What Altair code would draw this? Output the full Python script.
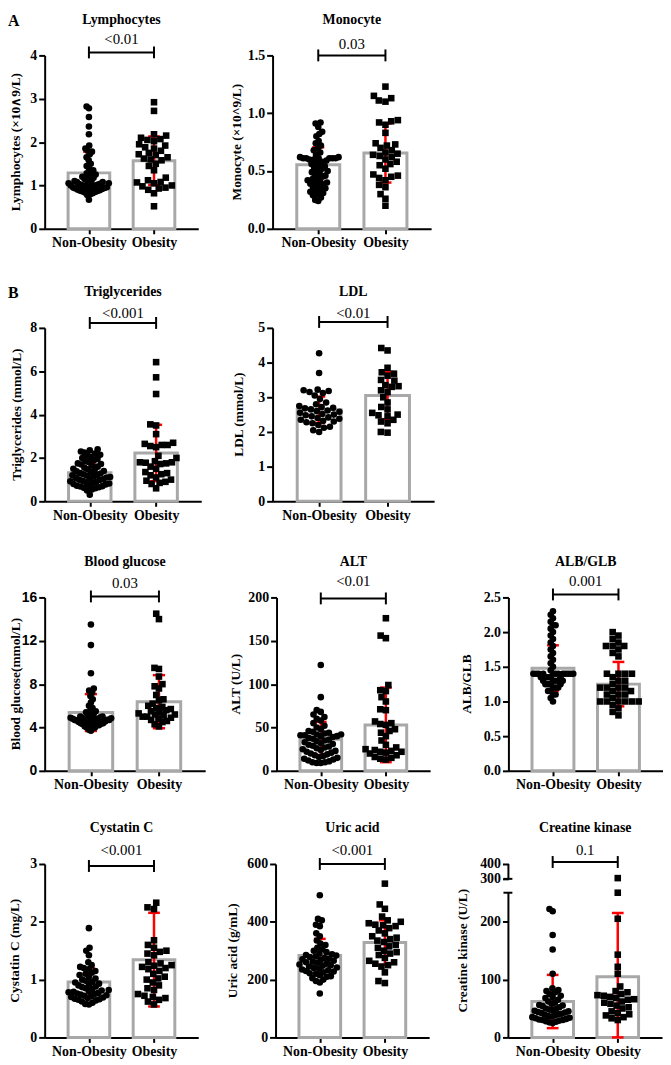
import altair as alt
import numpy as np
import pandas as pd

SERIF = "Liberation Serif"
SANS = "Liberation Sans"
RED = "#ff0000"
GRAY = "#a8a8a8"
H = 175
XDOM = [-0.68, 1.68]
GROUPS = ["Non-Obesity", "Obesity"]

# ---------------- data ----------------
lymph_non = [2.82, 2.78, 2.58, 2.36, 2.18, 1.92, 1.85, 1.80, 1.78, 1.72, 1.65, 1.58, 1.50, 1.45, 1.40, 1.35, 1.30, 1.28, 1.25, 1.22, 1.20, 1.18, 1.15, 1.12, 1.10, 1.10, 1.08, 1.08, 1.06, 1.05, 1.05, 1.04, 1.03, 1.02, 1.01, 1.00, 1.00, 0.99, 0.98, 0.97, 0.96, 0.95, 0.95, 0.94, 0.93, 0.92, 0.91, 0.90, 0.89, 0.88, 0.87, 0.86, 0.85, 0.84, 0.82, 0.80, 0.78, 0.67]
lymph_ob = [2.92, 2.72, 2.18, 2.15, 2.10, 2.07, 2.05, 2.02, 1.95, 1.92, 1.88, 1.85, 1.80, 1.75, 1.72, 1.70, 1.65, 1.62, 1.60, 1.58, 1.50, 1.45, 1.35, 1.18, 1.12, 1.08, 1.07, 1.05, 1.00, 0.98, 0.95, 0.93, 0.90, 0.82, 0.52]
lymph_mean = [1.29, 1.57]
lymph_sd = [0.49, 0.56]

mono_non = [0.92, 0.91, 0.88, 0.84, 0.82, 0.80, 0.76, 0.74, 0.72, 0.70, 0.68, 0.66, 0.64, 0.62, 0.62, 0.61, 0.61, 0.61, 0.61, 0.61, 0.61, 0.60, 0.60, 0.59, 0.58, 0.57, 0.56, 0.55, 0.54, 0.53, 0.52, 0.51, 0.50, 0.49, 0.48, 0.47, 0.46, 0.45, 0.44, 0.43, 0.42, 0.41, 0.40, 0.40, 0.39, 0.38, 0.37, 0.36, 0.35, 0.34, 0.33, 0.32, 0.31, 0.30, 0.29, 0.27, 0.25, 0.24]
mono_ob = [1.23, 1.15, 1.13, 1.11, 1.10, 0.94, 0.93, 0.92, 0.90, 0.83, 0.74, 0.73, 0.72, 0.70, 0.68, 0.66, 0.65, 0.64, 0.63, 0.62, 0.60, 0.58, 0.56, 0.55, 0.52, 0.47, 0.46, 0.45, 0.44, 0.42, 0.38, 0.36, 0.30, 0.26, 0.20]
mono_mean = [0.555, 0.655]
mono_sd = [0.15, 0.255]

trig_non = [2.40, 2.35, 2.30, 2.25, 2.20, 2.15, 2.10, 2.05, 2.00, 1.95, 1.90, 1.85, 1.80, 1.75, 1.72, 1.70, 1.65, 1.60, 1.55, 1.50, 1.48, 1.45, 1.40, 1.38, 1.35, 1.30, 1.28, 1.25, 1.22, 1.20, 1.18, 1.15, 1.12, 1.10, 1.08, 1.05, 1.02, 1.00, 0.98, 0.95, 0.92, 0.90, 0.88, 0.85, 0.82, 0.80, 0.78, 0.75, 0.72, 0.70, 0.68, 0.65, 0.62, 0.60, 0.55, 0.50, 0.30]
trig_ob = [6.42, 5.72, 4.95, 3.55, 3.50, 3.10, 2.70, 2.65, 2.60, 2.60, 2.55, 2.50, 2.10, 2.00, 1.85, 1.80, 1.80, 1.78, 1.75, 1.72, 1.60, 1.50, 1.35, 1.30, 1.25, 1.20, 1.10, 1.00, 0.95, 0.90, 0.85, 0.80, 0.60]
trig_mean = [1.32, 2.23]
trig_sd = [0.45, 1.30]

ldl_non = [4.27, 3.70, 3.22, 3.20, 3.18, 3.15, 3.12, 3.05, 2.95, 2.85, 2.80, 2.75, 2.72, 2.70, 2.68, 2.65, 2.62, 2.60, 2.58, 2.55, 2.52, 2.50, 2.48, 2.45, 2.42, 2.40, 2.38, 2.35, 2.32, 2.30, 2.28, 2.25, 2.20, 2.15, 2.12, 2.05, 2.00]
ldl_ob = [4.42, 4.35, 3.85, 3.72, 3.68, 3.62, 3.50, 3.48, 3.35, 3.32, 3.30, 3.20, 3.15, 3.00, 2.85, 2.72, 2.65, 2.55, 2.50, 2.48, 2.45, 2.35, 2.30, 2.25, 2.00, 1.98]
ldl_mean = [2.64, 3.05]
ldl_sd = [0.38, 0.68]

bg_non = [13.5, 11.6, 9.0, 7.6, 7.4, 7.2, 6.9, 6.6, 6.3, 6.0, 5.8, 5.6, 5.5, 5.4, 5.3, 5.2, 5.1, 5.0, 5.0, 4.95, 4.9, 4.9, 4.9, 4.85, 4.8, 4.8, 4.8, 4.75, 4.7, 4.7, 4.7, 4.65, 4.6, 4.6, 4.55, 4.5, 4.5, 4.45, 4.4, 4.4, 4.35, 4.3, 4.3, 4.2, 4.2, 4.1, 4.0, 4.0, 3.9, 3.8, 3.7]
bg_ob = [14.5, 14.0, 9.5, 9.4, 8.7, 8.0, 7.8, 7.6, 7.0, 6.6, 6.5, 6.2, 6.0, 5.9, 5.8, 5.7, 5.6, 5.5, 5.4, 5.3, 5.2, 5.2, 5.1, 5.0, 5.0, 4.9, 4.8, 4.7, 4.6, 4.5, 4.3, 4.1]
bg_mean = [5.38, 6.38]
bg_sd = [1.70, 2.45]

alt_non = [122, 85, 70, 68, 65, 62, 60, 58, 55, 52, 50, 48, 46, 45, 44, 43, 42, 42, 41, 41, 40, 40, 39, 38, 37, 36, 35, 34, 33, 32, 31, 30, 29, 28, 27, 26, 25, 24, 23, 22, 21, 20, 19, 18, 17, 16, 15, 14, 13, 12, 11, 10, 10, 9, 9]
alt_ob = [176, 156, 153, 99, 93, 92, 85, 80, 71, 70, 57, 55, 54, 53, 48, 46, 44, 40, 35, 30, 27, 25, 24, 23, 22, 22, 21, 20, 18, 16, 15, 14, 13]
alt_mean = [36.5, 53.0]
alt_sd = [20.0, 43.0]

alb_non = [2.30, 2.25, 2.20, 2.15, 2.10, 2.10, 2.05, 2.00, 1.95, 1.90, 1.85, 1.80, 1.75, 1.70, 1.65, 1.60, 1.55, 1.50, 1.45, 1.40, 1.40, 1.40, 1.40, 1.40, 1.40, 1.40, 1.40, 1.40, 1.40, 1.40, 1.40, 1.35, 1.35, 1.35, 1.35, 1.35, 1.30, 1.30, 1.30, 1.30, 1.30, 1.25, 1.25, 1.25, 1.25, 1.20, 1.20, 1.20, 1.15, 1.15, 1.10, 1.10, 1.05, 1.00]
alb_ob = [2.00, 1.95, 1.90, 1.85, 1.80, 1.80, 1.80, 1.75, 1.70, 1.65, 1.40, 1.40, 1.40, 1.40, 1.35, 1.30, 1.30, 1.25, 1.20, 1.20, 1.20, 1.20, 1.15, 1.15, 1.10, 1.10, 1.10, 1.05, 1.00, 1.00, 1.00, 1.00, 1.00, 1.00, 0.95, 0.90, 0.85, 0.80]
alb_mean = [1.48, 1.25]
alb_sd = [0.33, 0.32]

cys_non = [1.89, 1.55, 1.50, 1.42, 1.30, 1.25, 1.22, 1.20, 1.18, 1.15, 1.12, 1.10, 1.08, 1.05, 1.02, 1.00, 0.98, 0.96, 0.95, 0.93, 0.92, 0.90, 0.88, 0.87, 0.85, 0.84, 0.82, 0.81, 0.80, 0.79, 0.78, 0.77, 0.76, 0.75, 0.74, 0.73, 0.72, 0.71, 0.70, 0.69, 0.68, 0.67, 0.66, 0.65, 0.64, 0.62, 0.60, 0.58, 0.57]
cys_ob = [2.33, 2.25, 2.22, 1.68, 1.60, 1.55, 1.50, 1.48, 1.45, 1.42, 1.30, 1.28, 1.25, 1.24, 1.22, 1.20, 1.18, 1.15, 1.10, 1.05, 1.02, 1.00, 0.95, 0.90, 0.85, 0.82, 0.75, 0.72, 0.70, 0.68, 0.65, 0.62, 0.57]
cys_mean = [0.96, 1.345]
cys_sd = [0.24, 0.81]

uric_non = [492, 410, 405, 390, 385, 360, 350, 335, 325, 320, 310, 305, 300, 295, 290, 288, 285, 283, 280, 278, 275, 272, 270, 268, 265, 262, 260, 258, 255, 252, 250, 248, 245, 242, 240, 238, 235, 232, 230, 228, 225, 222, 220, 215, 212, 210, 205, 200, 195, 190, 152]
uric_ob = [532, 460, 445, 418, 405, 400, 395, 390, 388, 385, 378, 370, 360, 350, 345, 340, 335, 330, 320, 315, 310, 300, 295, 290, 285, 275, 265, 260, 255, 250, 245, 225, 195, 188]
uric_mean = [283, 328]
uric_sd = [58, 77]

ck_non = [222, 218, 177, 152, 110, 85, 82, 80, 78, 75, 72, 70, 68, 65, 62, 60, 58, 56, 55, 54, 52, 50, 49, 48, 47, 46, 45, 44, 43, 42, 41, 40, 39, 38, 37, 36, 35, 34, 33, 32, 31, 30, 30, 29, 28, 27, 26, 25]
ck_ob = [305, 250, 205, 143, 122, 110, 88, 80, 78, 75, 73, 72, 70, 68, 66, 65, 62, 60, 58, 55, 52, 50, 45, 42, 40, 38, 35, 33, 30]
ck_mean = [62, 105]
ck_sd = [46, 110]


def swarm(vals, to_px, d=6.8, maxw=20.5):
    placed = []
    res = np.zeros(len(vals))
    order = np.argsort(vals, kind="stable")
    for i in order:
        y = float(to_px(vals[i]))
        cands = [0.0]
        for (px, py) in placed:
            dy = abs(y - py)
            if dy < d:
                dx = np.sqrt(d * d - dy * dy)
                cands.extend([px + dx + 1e-6, px - dx - 1e-6])
        cands.sort(key=lambda c: (abs(c), c))
        chosen = 0.0
        for c in cands:
            if all((c - px) ** 2 + (y - py) ** 2 >= d * d - 1e-3 for px, py in placed):
                chosen = c
                break
        res[i] = chosen
        placed.append((chosen, y))
    m = np.max(np.abs(res)) if len(res) else 0
    if m > maxw:
        res = res * maxw / m
    return res


def make_panel(sp):
    W = sp["w"]
    xs = alt.Scale(domain=XDOM, nice=False, zero=False)
    pw = "pw_domain" in sp
    if pw:
        ys = alt.Scale(domain=sp["pw_domain"], range=sp["pw_range"], nice=False, zero=False)
        to_px = lambda v: np.interp(v, sp["pw_domain"], [H - r for r in sp["pw_range"]])
    else:
        ys = alt.Scale(domain=[0, sp["ymax"]], nice=False, zero=False)
        to_px = lambda v: v / sp["ymax"] * H
    xax = alt.Axis(values=[0, 1], labelExpr="datum.value == 0 ? 'Non-Obesity' : 'Obesity'",
                   title=None, grid=False, domainColor="black", domainWidth=2,
                   tickColor="black", tickWidth=2, tickSize=5, labelFont=SERIF,
                   labelFontSize=14, labelFontWeight="bold", labelColor="black",
                   labelPadding=2, labelOverlap=False, labelFlush=False)
    yax = alt.Axis(values=sp["ticks"], format=sp["fmt"], title=None, grid=False,
                   domain=not pw, domainColor="black", domainWidth=2,
                   tickColor="black", tickWidth=2, tickSize=6,
                   labelFont=sp.get("lfont", SERIF), labelFontSize=14, labelFontWeight="bold",
                   labelColor="black", labelPadding=2, labelOverlap=False, labelFlush=False)

    def X(f):
        return alt.X(f, type="quantitative", scale=xs, axis=xax)

    def Y(f):
        return alt.Y(f, type="quantitative", scale=ys, axis=yax)

    bw, cap = 0.32, 0.09
    means, sds = sp["mean"], sp["sd"]
    bdf = pd.DataFrame({
        "g": [0, 1], "xl": [-bw, 1 - bw], "xr": [bw, 1 + bw],
        "m": means, "z": [0, 0],
        "lo": [max(0, m - s) for m, s in zip(means, sds)],
        "hi": [m + s for m, s in zip(means, sds)],
        "cl": [-cap, 1 - cap], "cr": [cap, 1 + cap],
    })
    upx = (XDOM[1] - XDOM[0]) / W
    rows = []
    for gi, vals in enumerate([sp["non"], sp["ob"]]):
        offs = swarm(vals, to_px)
        for v, o in zip(vals, offs):
            rows.append({"grp": GROUPS[gi], "v": v, "xp": gi + o * upx})
    pdf = pd.DataFrame(rows)

    layers = []
    layers.append(alt.Chart(bdf).mark_rect(fill="white", stroke=GRAY, strokeWidth=3)
                  .encode(x=X("xl"), x2="xr", y=Y("m"), y2="z"))
    layers.append(alt.Chart(bdf).mark_rule(color=RED, strokeWidth=2.5)
                  .encode(x=X("g"), y=Y("lo"), y2="hi"))
    layers.append(alt.Chart(bdf).mark_rule(color=RED, strokeWidth=2.5)
                  .encode(x=X("cl"), x2="cr", y=Y("hi")))
    layers.append(alt.Chart(bdf).mark_rule(color=RED, strokeWidth=2.5)
                  .encode(x=X("cl"), x2="cr", y=Y("lo")))
    layers.append(alt.Chart(pdf).mark_point(filled=True, opacity=1, color="black", size=44, strokeWidth=0)
                  .encode(x=X("xp"), y=Y("v"),
                          shape=alt.Shape("grp:N", scale=alt.Scale(domain=GROUPS, range=["circle", "square"]), legend=None)))
    if pw:
        segdf = pd.DataFrame({"y0": [0, 300], "y1": [250, 400]})
        layers.append(alt.Chart(segdf).mark_rule(color="black", strokeWidth=2)
                      .encode(x=alt.value(0), y=Y("y0"), y2="y1"))
        capdf = pd.DataFrame({"v": [250, 300]})
        layers.append(alt.Chart(capdf).mark_rule(color="black", strokeWidth=2)
                      .encode(x=alt.value(-5), x2=alt.value(4), y=Y("v")))
    br = sp["br"]
    layers.append(alt.Chart(pd.DataFrame({"a": [0.0], "b": [1.0]})).mark_rule(color="black", strokeWidth=2)
                  .encode(x=X("a"), x2="b", y=alt.value(br)))
    layers.append(alt.Chart(pd.DataFrame({"a": [0.0, 1.0]})).mark_rule(color="black", strokeWidth=2)
                  .encode(x=X("a"), y=alt.value(br - 6), y2=alt.value(br + 6)))
    layers.append(alt.Chart(pd.DataFrame({"a": [0.5], "t": [sp["p"]]}))
                  .mark_text(font=SERIF, fontSize=15, color="black", baseline="middle")
                  .encode(x=X("a"), y=alt.value(sp["pdy"]), text="t:N"))
    layers.append(alt.Chart(pd.DataFrame({"t": [sp["title"]]}))
                  .mark_text(font=SERIF, fontSize=14, fontWeight="bold", color="black", baseline="middle")
                  .encode(x=alt.value(W / 2), y=alt.value(-36), text="t:N"))
    layers.append(alt.Chart(pd.DataFrame({"t": [sp["ytitle"]]}))
                  .mark_text(font=SERIF, fontSize=13.5, fontWeight="bold", color="black", angle=270, baseline="middle")
                  .encode(x=alt.value(sp["tx"]), y=alt.value(H / 2), text="t:N"))
    if sp.get("letter"):
        layers.append(alt.Chart(pd.DataFrame({"t": [sp["letter"]]}))
                      .mark_text(font=SERIF, fontSize=16, fontWeight="bold", color="black", align="left", baseline="middle")
                      .encode(x=alt.value(-37), y=alt.value(-35), text="t:N"))
    return alt.layer(*layers).properties(width=W, height=H)


specs = {
    "lymph": dict(title="Lymphocytes", ytitle="Lymphocytes (×10∧9/L)", ymax=4, ticks=[0, 1, 2, 3, 4], fmt="d",
                  p="<0.01", w=155, tx=-29, pdy=-17, br=-3, letter="A",
                  non=lymph_non, ob=lymph_ob, mean=lymph_mean, sd=lymph_sd),
    "mono": dict(title="Monocyte", ytitle="Monocyte (×10^9/L)", ymax=1.5, ticks=[0, 0.5, 1.0, 1.5], fmt=".1f",
                 p="0.03", w=160, tx=-36, pdy=-11, br=0,
                 non=mono_non, ob=mono_ob, mean=mono_mean, sd=mono_sd),
    "trig": dict(title="Triglycerides", ytitle="Triglycerides (mmol/L)", ymax=8, ticks=[0, 2, 4, 6, 8], fmt="d",
                 p="<0.001", w=158, tx=-28, pdy=-15, br=-5, letter="B",
                 non=trig_non, ob=trig_ob, mean=trig_mean, sd=trig_sd),
    "ldl": dict(title="LDL", ytitle="LDL (mmol/L)", ymax=5, ticks=[0, 1, 2, 3, 4, 5], fmt="d",
                p="<0.01", w=163, tx=-34, pdy=-15, br=-6,
                non=ldl_non, ob=ldl_ob, mean=ldl_mean, sd=ldl_sd),
    "bg": dict(title="Blood glucose", ytitle="Blood glucose(mmol/L)", ymax=16, ticks=[0, 4, 8, 12, 16], fmt="d",
               p="0.03", w=162, tx=-29, pdy=-15, br=-1, lfont=SANS,
               non=bg_non, ob=bg_ob, mean=bg_mean, sd=bg_sd),
    "alt": dict(title="ALT", ytitle="ALT (U/L)", ymax=200, ticks=[0, 50, 100, 150, 200], fmt="d",
                p="<0.01", w=155, tx=-41, pdy=-17, br=1,
                non=alt_non, ob=alt_ob, mean=alt_mean, sd=alt_sd),
    "alb": dict(title="ALB/GLB", ytitle="ALB/GLB", ymax=2.5, ticks=[0, 0.5, 1.0, 1.5, 2.0, 2.5], fmt=".1f",
                p="0.001", w=156, tx=-42, pdy=-17, br=-3,
                non=alb_non, ob=alb_ob, mean=alb_mean, sd=alb_sd),
    "cys": dict(title="Cystatin C", ytitle="Cystatin C (mg/L)", ymax=3, ticks=[0, 1, 2, 3], fmt="d",
                p="<0.001", w=155, tx=-30, pdy=-14, br=2,
                non=cys_non, ob=cys_ob, mean=cys_mean, sd=cys_sd),
    "uric": dict(title="Uric acid", ytitle="Uric acid (g/mL)", ymax=600, ticks=[0, 200, 400, 600], fmt="d",
                 p="<0.001", w=155, tx=-43, pdy=-14, br=0,
                 non=uric_non, ob=uric_ob, mean=uric_mean, sd=uric_sd),
    "ck": dict(title="Creatine kinase", ytitle="Creatine kinase (U/L)", ticks=[0, 100, 200, 300, 400], fmt="d",
               pw_domain=[0, 250, 300, 400], pw_range=[175, 29, 15, 0],
               p="0.1", w=155, tx=-46, pdy=-14, br=-2,
               non=ck_non, ob=ck_ob, mean=ck_mean, sd=ck_sd),
}

P = {k: make_panel(v) for k, v in specs.items()}

r1 = alt.hconcat(P["lymph"], P["mono"], spacing=32)
r2 = alt.hconcat(P["trig"], P["ldl"], spacing=31)
r3 = alt.hconcat(alt.hconcat(P["bg"], P["alt"], spacing=24), P["alb"], spacing=30)
r4 = alt.hconcat(alt.hconcat(P["cys"], P["uric"], spacing=28), P["ck"], spacing=27)

chart = alt.vconcat(alt.vconcat(alt.vconcat(r1, r2, spacing=36), r3, spacing=33), r4, spacing=30)
chart = chart.configure_view(stroke=None).properties(padding=0, background="white")

chart.save("out.html", embed_options={"renderer": "svg", "actions": False})
